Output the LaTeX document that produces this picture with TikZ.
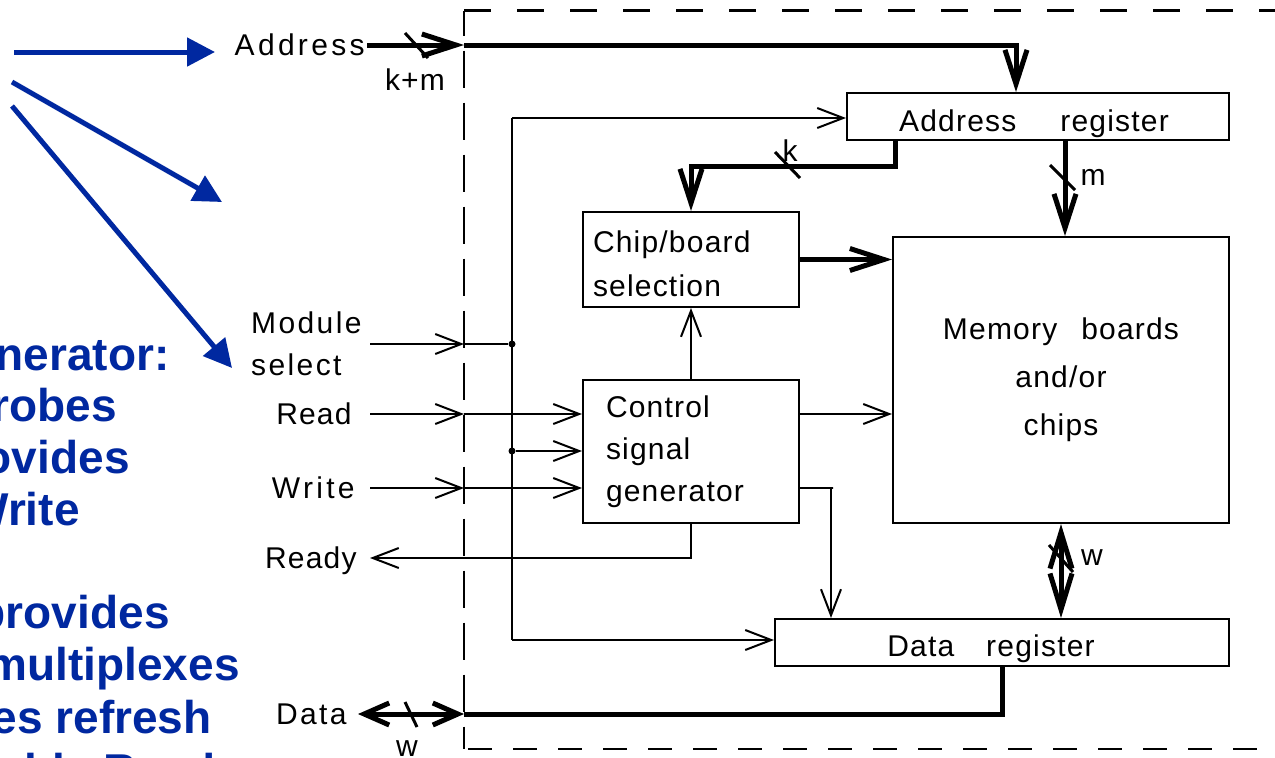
\documentclass[tikz,border=0pt]{standalone}
\usepackage{fontspec}
\setmainfont{Liberation Sans}
\newfontfamily\diagfont[LetterSpace=4]{Liberation Sans}
\newfontfamily\widefont[LetterSpace=11]{Liberation Sans}
\newfontfamily\midfont[LetterSpace=8]{Liberation Sans}
\usetikzlibrary{arrows.meta,calc}
\definecolor{slideblue}{RGB}{0,40,160}
\tikzset{
  sig/.style={line width=1pt},
  bus/.style={line width=2.5pt},
  sigarr/.style={-{Straight Barb[length=13pt,width=10pt]}},
  busarr/.style={-{Straight Barb[length=17pt,width=11pt]}},
  blk/.style={draw, line width=1pt, inner sep=0pt},
  lbl/.style={font=\diagfont\fontsize{15}{18}\selectfont, text height=10.8pt, text depth=0pt, inner ysep=0pt},
  smalllbl/.style={font=\diagfont\fontsize{15}{18}\selectfont, inner sep=0pt},
  slashmark/.style={line width=1.5pt},
  frame/.style={line width=1.35pt},
  bluearrow/.style={draw=slideblue, line width=2.5pt, -{Triangle[length=14pt,width=14pt]}},
  bluetxt/.style={text=slideblue, font=\bfseries\fontsize{23}{26}\selectfont, inner sep=0pt, anchor=base east},
  jdot/.style={circle, fill, inner sep=0pt, minimum size=3.5pt}
}
\begin{document}
\begin{tikzpicture}[x=0.5pt,y=-0.5pt]
\useasboundingbox (0,0) rectangle (1275,757);
\clip (0,0) rectangle (1275,757);
\fill[white] (0,0) rectangle (1275,757);

% ---------- module frame (dashed) ----------
\draw[frame, dash pattern=on 13.5pt off 13pt] (464,10.5) -- (1290,10.5);
\draw[frame, dash pattern=on 18.5pt off 7.5pt, dash phase=6pt] (464,10.5) -- (464,749);
\draw[frame, dash pattern=on 12pt off 10.5pt, dash phase=20.5pt] (464,749) -- (1290,749);

% ---------- blocks ----------
\node[blk, minimum width=191pt, minimum height=23.5pt, font=\diagfont\fontsize{15}{18}\selectfont] (areg) at (1038,116.5) {\rule{0pt}{18.5pt}Address\hspace{22pt}register\rule{4pt}{0pt}};
\node[blk, minimum width=108pt, minimum height=47.5pt, text width=98pt, inner xsep=5pt, align=left, font=\diagfont\fontsize{15}{22}\selectfont] (chip) at (691,259.5) {\rule{0pt}{15.5pt}Chip/board\\selection};
\node[blk, minimum width=168pt, minimum height=143pt, align=center, font=\diagfont\fontsize{15}{24}\selectfont] (mem) at (1061,380) {Memory\hspace{12pt}boards\\and/or\\chips};
\node[blk, minimum width=108pt, minimum height=71.5pt, text width=85pt, inner xsep=11.5pt, align=left, font=\diagfont\fontsize{15}{21}\selectfont] (ctrl) at (691,451.5) {Control\\signal\\generator};
\node[blk, minimum width=227pt, minimum height=23.5pt, font=\diagfont\fontsize{15}{18}\selectfont] (dreg) at (1002,642.5) {\rule{0pt}{16.6pt}Data\hspace{16pt}register\rule{11pt}{0pt}};

% ---------- external labels ----------
\node[lbl, anchor=east, inner xsep=1pt, font=\widefont\fontsize{15}{18}\selectfont] (addrlbl) at (367,45) {Address};
\node[smalllbl, anchor=east, inner xsep=4pt, align=left, font=\midfont\fontsize{15}{21}\selectfont] (modlbl) at (370,344) {Module\\select};
\node[lbl, anchor=east, inner xsep=9pt] (readlbl) at (370,414) {Read};
\node[lbl, anchor=east, inner xsep=7.5pt, font=\widefont\fontsize{15}{18}\selectfont] (writelbl) at (370,488) {Write};
\node[lbl, anchor=east, inner xsep=6.5pt] (readylbl) at (370,558) {Ready};
\node[lbl, anchor=east, inner xsep=5.5pt, font=\midfont\fontsize{15}{18}\selectfont] (datalbl) at (358,714) {Data};

\node[smalllbl] (kmlbl) at (415,80) {k+m};
\node[smalllbl] (klbl) at (790,151) {k};
\node[smalllbl] (mlbl) at (1093,177) {m};
\node[smalllbl] (wlbl) at (1092,558) {w};
\node[smalllbl] (wlbl2) at (407,749) {w};

% ---------- boundary crossing points ----------
\coordinate (aB) at (464,45);
\coordinate (msB) at (464,344);
\coordinate (rdB) at (464,414);
\coordinate (wrB) at (464,488);
\coordinate (dB) at (464,714);
\coordinate (bt) at (512,118);
\coordinate (bb) at (512,640);
\node[jdot] (j1) at (512,344) {};
\node[jdot] (j2) at (512,451) {};

% ---------- address path ----------
\draw[bus, busarr] (addrlbl.east) -- (aB);
\draw[bus, busarr] (aB) -| ([xshift=-11pt]areg.north);
\draw[slashmark] (405,33) -- (428,58);

\draw[bus, busarr] ([xshift=-71.5pt]areg.south) -- ++(0,25) -| (chip.north);
\draw[slashmark] (775,152) -- (800,178);

\draw[bus, busarr] ([xshift=13.5pt]areg.south) -- ([xshift=13.5pt]areg.south |- mem.north);
\draw[slashmark] (1050,165) -- (1075,190);

\draw[bus, busarr] (chip.east) -- (chip.east -| mem.west);

% ---------- control signals ----------
\draw[sig, sigarr] (modlbl.east) -- (msB);
\draw[sig] (msB) -- (j1);
\draw[sig] (bt) -- (bb);
\draw[sig, sigarr] (bt) -- (bt -| areg.west);
\draw[sig, sigarr] (bb) -- (bb -| dreg.west);
\draw[sig, sigarr] (j2) -- (j2 -| ctrl.west);

\draw[sig, sigarr] (readlbl.east) -- (rdB);
\draw[sig, sigarr] (rdB) -- (rdB -| ctrl.west);
\draw[sig, sigarr] (writelbl.east) -- (wrB);
\draw[sig, sigarr] (wrB) -- (wrB -| ctrl.west);

\draw[sig, sigarr] (ctrl.north) -- (chip.south);
\draw[sig, sigarr] (rdB -| ctrl.east) -- (rdB -| mem.west);
\draw[sig, sigarr] (wrB -| ctrl.east) -- ++(33,0) -| ([xshift=28.5pt]dreg.north west);
\draw[sig, sigarr] (ctrl.south) |- (readylbl.east);

% ---------- data path ----------
\draw[bus, {Straight Barb[length=18pt,width=11pt]}-{Straight Barb[length=18pt,width=11pt]}] (mem.south) -- (mem.south |- dreg.north);
\draw[slashmark] (1049,545) -- (1073,572);

\draw[bus] (dreg.south) |- (dB);
\draw[bus, {Straight Barb[length=12.5pt,width=11pt]}-{Straight Barb[length=12.5pt,width=11pt]}] (datalbl.east) -- (dB);
\draw[slashmark] (405,702) -- (417,727);

% ---------- slide annotations (blue) ----------
\coordinate (ba1s) at (14,52);   \coordinate (ba1e) at (215,52);
\coordinate (ba2s) at (12,82);   \coordinate (ba2e) at (222,202);
\coordinate (ba3s) at (12,106);  \coordinate (ba3e) at (232,368);
\draw[bluearrow] (ba1s) -- (ba1e);
\draw[bluearrow] (ba2s) -- (ba2e);
\draw[bluearrow] (ba3s) -- (ba3e);

\node[bluetxt] (bt1) at (170,370) {nerator:};
\node[bluetxt] (bt2) at (117,421) {robes};
\node[bluetxt] (bt3) at (130,473) {ovides};
\node[bluetxt] (bt4) at (80,525) {Write};
\node[bluetxt] (bt5) at (170,628) {provides};
\node[bluetxt] (bt6) at (240,680) {multiplexes};
\node[bluetxt] (bt7) at (212,733) {es refresh};
\node[bluetxt, anchor=base west] (bt8) at (24,786) {ble Read};
\end{tikzpicture}
\end{document}
